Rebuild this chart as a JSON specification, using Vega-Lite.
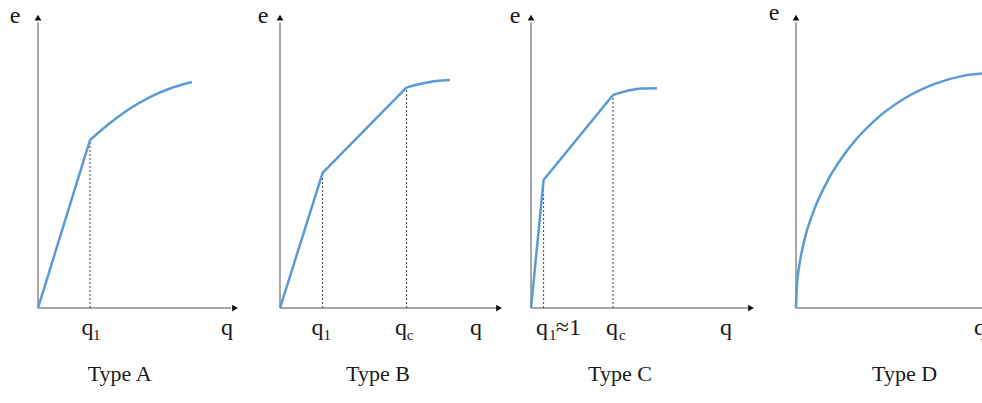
{
  "$schema": "https://vega.github.io/schema/vega-lite/v6.json",
  "padding": 0,
  "spacing": 0,
  "background": "white",
  "config": {"view": {"stroke": null}, "text": {"font": "Liberation Serif", "color": "#1a1a1a"}},
  "datasets": {
    "A": [
      {"kind": "axis", "q": 0, "e": 0, "q2": 0, "e2": 9.75},
      {"kind": "axis", "q": 0, "e": 0, "q2": 9.65, "e2": 0},
      {"kind": "arrow", "q": 0, "e": 9.91, "shape": "triangle-up"},
      {"kind": "arrow", "q": 9.85, "e": 0, "shape": "triangle-right"},
      {"kind": "dash", "q": 2.6, "e": 0, "q2": 2.6, "e2": 5.73},
      {"kind": "lin", "q": 0, "e": 0},
      {"kind": "lin", "q": 2.6, "e": 5.73},
      {"kind": "curve", "q": 2.6, "e": 5.73},
      {"kind": "curve", "q": 3.6, "e": 6.31},
      {"kind": "curve", "q": 4.6, "e": 6.81},
      {"kind": "curve", "q": 5.6, "e": 7.2},
      {"kind": "curve", "q": 6.6, "e": 7.49},
      {"kind": "curve", "q": 7.7, "e": 7.71},
      {"kind": "label", "q": -1.15, "e": 9.73, "text": "e"},
      {"kind": "label", "q": 9.45, "e": -0.92, "text": "q"},
      {"kind": "label", "q": 2.48, "e": -0.92, "text": "q"},
      {"kind": "sub", "q": 2.75, "e": -1.09, "text": "1"},
      {"kind": "title", "q": 4.08, "e": -2.49, "text": "Type A"}
    ],
    "B": [
      {"kind": "axis", "q": 0, "e": 0, "q2": 0, "e2": 9.75},
      {"kind": "axis", "q": 0, "e": 0, "q2": 10.8, "e2": 0},
      {"kind": "arrow", "q": 0, "e": 9.91, "shape": "triangle-up"},
      {"kind": "arrow", "q": 10.95, "e": 0, "shape": "triangle-right"},
      {"kind": "dash", "q": 2.13, "e": 0, "q2": 2.13, "e2": 4.61},
      {"kind": "dash", "q": 6.33, "e": 0, "q2": 6.33, "e2": 7.53},
      {"kind": "lin", "q": 0, "e": 0},
      {"kind": "lin", "q": 2.13, "e": 4.61},
      {"kind": "lin", "q": 6.33, "e": 7.53},
      {"kind": "curve", "q": 6.33, "e": 7.53},
      {"kind": "curve", "q": 7.17, "e": 7.67},
      {"kind": "curve", "q": 7.83, "e": 7.75},
      {"kind": "curve", "q": 8.5, "e": 7.78},
      {"kind": "label", "q": -0.85, "e": 9.73, "text": "e"},
      {"kind": "label", "q": 9.8, "e": -0.92, "text": "q"},
      {"kind": "label", "q": 1.88, "e": -0.92, "text": "q"},
      {"kind": "sub", "q": 2.18, "e": -1.09, "text": "1"},
      {"kind": "label", "q": 6.05, "e": -0.92, "text": "q"},
      {"kind": "sub", "q": 6.34, "e": -1.09, "text": "c"},
      {"kind": "title", "q": 4.9, "e": -2.49, "text": "Type B"}
    ],
    "C": [
      {"kind": "axis", "q": 0, "e": 0, "q2": 0, "e2": 9.75},
      {"kind": "axis", "q": 0, "e": 0, "q2": 10.85, "e2": 0},
      {"kind": "arrow", "q": 0, "e": 9.91, "shape": "triangle-up"},
      {"kind": "arrow", "q": 11.0, "e": 0, "shape": "triangle-right"},
      {"kind": "dash", "q": 0.63, "e": 0, "q2": 0.63, "e2": 4.37},
      {"kind": "dash", "q": 4.1, "e": 0, "q2": 4.1, "e2": 7.27},
      {"kind": "lin", "q": 0, "e": 0},
      {"kind": "lin", "q": 0.63, "e": 4.37},
      {"kind": "lin", "q": 4.1, "e": 7.27},
      {"kind": "curve", "q": 4.1, "e": 7.27},
      {"kind": "curve", "q": 4.88, "e": 7.42},
      {"kind": "curve", "q": 5.55, "e": 7.49},
      {"kind": "curve", "q": 6.3, "e": 7.5},
      {"kind": "label", "q": -0.8, "e": 9.73, "text": "e"},
      {"kind": "label", "q": 9.75, "e": -0.92, "text": "q"},
      {"kind": "label", "q": 0.55, "e": -0.92, "text": "q"},
      {"kind": "sub", "q": 0.9, "e": -1.09, "text": "1"},
      {"kind": "label", "q": 1.87, "e": -0.92, "text": "≈1"},
      {"kind": "label", "q": 4.05, "e": -0.92, "text": "q"},
      {"kind": "sub", "q": 4.4, "e": -1.09, "text": "c"},
      {"kind": "title", "q": 4.45, "e": -2.49, "text": "Type C"}
    ],
    "D": [
      {"kind": "axis", "q": 0, "e": 0, "q2": 0, "e2": 9.75},
      {"kind": "axis", "q": 0, "e": 0, "q2": 9.6, "e2": 0},
      {"kind": "arrow", "q": 0, "e": 9.91, "shape": "triangle-up"},
      {"kind": "curve", "q": 0, "e": 0},
      {"kind": "curve", "q": 0.05, "e": 0.81},
      {"kind": "curve", "q": 0.15, "e": 1.39},
      {"kind": "curve", "q": 0.4, "e": 2.26},
      {"kind": "curve", "q": 0.9, "e": 3.34},
      {"kind": "curve", "q": 1.65, "e": 4.43},
      {"kind": "curve", "q": 2.65, "e": 5.46},
      {"kind": "curve", "q": 3.9, "e": 6.38},
      {"kind": "curve", "q": 5.4, "e": 7.14},
      {"kind": "curve", "q": 6.9, "e": 7.64},
      {"kind": "curve", "q": 8.4, "e": 7.93},
      {"kind": "curve", "q": 9.65, "e": 8.02},
      {"kind": "label", "q": -1.1, "e": 9.83, "text": "e"},
      {"kind": "label", "q": 9.2, "e": -0.92, "text": "q"},
      {"kind": "title", "q": 5.43, "e": -2.49, "text": "Type D"}
    ]
  },
  "hconcat": [
    {
      "width": 250, "height": 403,
      "data": {"name": "A"},
      "encoding": {
        "x": {"field": "q", "type": "quantitative", "scale": {"domain": [-1.9, 10.6], "nice": false, "zero": false}, "axis": null},
        "y": {"field": "e", "type": "quantitative", "scale": {"domain": [-3.24, 10.51], "nice": false, "zero": false}, "axis": null}
      },
      "layer": [
        {"transform": [{"filter": "datum.kind == 'axis'"}], "mark": {"type": "rule", "color": "#8a8a8a", "strokeWidth": 1.5}, "encoding": {"x2": {"field": "q2"}, "y2": {"field": "e2"}}},
        {"transform": [{"filter": "datum.kind == 'dash'"}], "mark": {"type": "rule", "color": "#444444", "strokeWidth": 1, "strokeDash": [2, 2]}, "encoding": {"x2": {"field": "q2"}, "y2": {"field": "e2"}}},
        {"transform": [{"filter": "datum.kind == 'arrow'"}], "mark": {"type": "point", "filled": true, "color": "#111111", "size": 45, "opacity": 1}, "encoding": {"shape": {"field": "shape", "type": "nominal", "scale": null}}},
        {"transform": [{"filter": "datum.kind == 'lin'"}], "mark": {"type": "line", "color": "#5b9bd5", "strokeWidth": 2.5}},
        {"transform": [{"filter": "datum.kind == 'curve'"}], "mark": {"type": "line", "color": "#5b9bd5", "strokeWidth": 2.5, "interpolate": "monotone"}},
        {"transform": [{"filter": "datum.kind == 'label'"}], "mark": {"type": "text", "fontSize": 24, "align": "center", "baseline": "alphabetic"}, "encoding": {"text": {"field": "text"}}},
        {"transform": [{"filter": "datum.kind == 'sub'"}], "mark": {"type": "text", "fontSize": 15, "align": "left", "baseline": "alphabetic"}, "encoding": {"text": {"field": "text"}}},
        {"transform": [{"filter": "datum.kind == 'title'"}], "mark": {"type": "text", "fontSize": 22, "align": "center", "baseline": "alphabetic"}, "encoding": {"text": {"field": "text"}}}
      ]
    },
    {
      "width": 250, "height": 403,
      "data": {"name": "B"},
      "encoding": {
        "x": {"field": "q", "type": "quantitative", "scale": {"domain": [-1.5, 11.0], "nice": false, "zero": false}, "axis": null},
        "y": {"field": "e", "type": "quantitative", "scale": {"domain": [-3.24, 10.51], "nice": false, "zero": false}, "axis": null}
      },
      "layer": [
        {"transform": [{"filter": "datum.kind == 'axis'"}], "mark": {"type": "rule", "color": "#8a8a8a", "strokeWidth": 1.5}, "encoding": {"x2": {"field": "q2"}, "y2": {"field": "e2"}}},
        {"transform": [{"filter": "datum.kind == 'dash'"}], "mark": {"type": "rule", "color": "#444444", "strokeWidth": 1, "strokeDash": [2, 2]}, "encoding": {"x2": {"field": "q2"}, "y2": {"field": "e2"}}},
        {"transform": [{"filter": "datum.kind == 'arrow'"}], "mark": {"type": "point", "filled": true, "color": "#111111", "size": 45, "opacity": 1}, "encoding": {"shape": {"field": "shape", "type": "nominal", "scale": null}}},
        {"transform": [{"filter": "datum.kind == 'lin'"}], "mark": {"type": "line", "color": "#5b9bd5", "strokeWidth": 2.5}},
        {"transform": [{"filter": "datum.kind == 'curve'"}], "mark": {"type": "line", "color": "#5b9bd5", "strokeWidth": 2.5, "interpolate": "monotone"}},
        {"transform": [{"filter": "datum.kind == 'label'"}], "mark": {"type": "text", "fontSize": 24, "align": "center", "baseline": "alphabetic"}, "encoding": {"text": {"field": "text"}}},
        {"transform": [{"filter": "datum.kind == 'sub'"}], "mark": {"type": "text", "fontSize": 15, "align": "left", "baseline": "alphabetic"}, "encoding": {"text": {"field": "text"}}},
        {"transform": [{"filter": "datum.kind == 'title'"}], "mark": {"type": "text", "fontSize": 22, "align": "center", "baseline": "alphabetic"}, "encoding": {"text": {"field": "text"}}}
      ]
    },
    {
      "width": 250, "height": 403,
      "data": {"name": "C"},
      "encoding": {
        "x": {"field": "q", "type": "quantitative", "scale": {"domain": [-1.45, 11.05], "nice": false, "zero": false}, "axis": null},
        "y": {"field": "e", "type": "quantitative", "scale": {"domain": [-3.24, 10.51], "nice": false, "zero": false}, "axis": null}
      },
      "layer": [
        {"transform": [{"filter": "datum.kind == 'axis'"}], "mark": {"type": "rule", "color": "#8a8a8a", "strokeWidth": 1.5}, "encoding": {"x2": {"field": "q2"}, "y2": {"field": "e2"}}},
        {"transform": [{"filter": "datum.kind == 'dash'"}], "mark": {"type": "rule", "color": "#444444", "strokeWidth": 1, "strokeDash": [2, 2]}, "encoding": {"x2": {"field": "q2"}, "y2": {"field": "e2"}}},
        {"transform": [{"filter": "datum.kind == 'arrow'"}], "mark": {"type": "point", "filled": true, "color": "#111111", "size": 45, "opacity": 1}, "encoding": {"shape": {"field": "shape", "type": "nominal", "scale": null}}},
        {"transform": [{"filter": "datum.kind == 'lin'"}], "mark": {"type": "line", "color": "#5b9bd5", "strokeWidth": 2.5}},
        {"transform": [{"filter": "datum.kind == 'curve'"}], "mark": {"type": "line", "color": "#5b9bd5", "strokeWidth": 2.5, "interpolate": "monotone"}},
        {"transform": [{"filter": "datum.kind == 'label'"}], "mark": {"type": "text", "fontSize": 24, "align": "center", "baseline": "alphabetic"}, "encoding": {"text": {"field": "text"}}},
        {"transform": [{"filter": "datum.kind == 'sub'"}], "mark": {"type": "text", "fontSize": 15, "align": "left", "baseline": "alphabetic"}, "encoding": {"text": {"field": "text"}}},
        {"transform": [{"filter": "datum.kind == 'title'"}], "mark": {"type": "text", "fontSize": 22, "align": "center", "baseline": "alphabetic"}, "encoding": {"text": {"field": "text"}}}
      ]
    },
    {
      "width": 232, "height": 403,
      "data": {"name": "D"},
      "encoding": {
        "x": {"field": "q", "type": "quantitative", "scale": {"domain": [-2.1, 9.5], "nice": false, "zero": false}, "axis": null},
        "y": {"field": "e", "type": "quantitative", "scale": {"domain": [-3.24, 10.51], "nice": false, "zero": false}, "axis": null}
      },
      "layer": [
        {"transform": [{"filter": "datum.kind == 'axis'"}], "mark": {"type": "rule", "color": "#8a8a8a", "strokeWidth": 1.5}, "encoding": {"x2": {"field": "q2"}, "y2": {"field": "e2"}}},
        {"transform": [{"filter": "datum.kind == 'arrow'"}], "mark": {"type": "point", "filled": true, "color": "#111111", "size": 45, "opacity": 1}, "encoding": {"shape": {"field": "shape", "type": "nominal", "scale": null}}},
        {"transform": [{"filter": "datum.kind == 'curve'"}], "mark": {"type": "line", "color": "#5b9bd5", "strokeWidth": 2.5, "interpolate": "monotone"}},
        {"transform": [{"filter": "datum.kind == 'label'"}], "mark": {"type": "text", "fontSize": 24, "align": "center", "baseline": "alphabetic"}, "encoding": {"text": {"field": "text"}}},
        {"transform": [{"filter": "datum.kind == 'title'"}], "mark": {"type": "text", "fontSize": 22, "align": "center", "baseline": "alphabetic"}, "encoding": {"text": {"field": "text"}}}
      ]
    }
  ]
}
